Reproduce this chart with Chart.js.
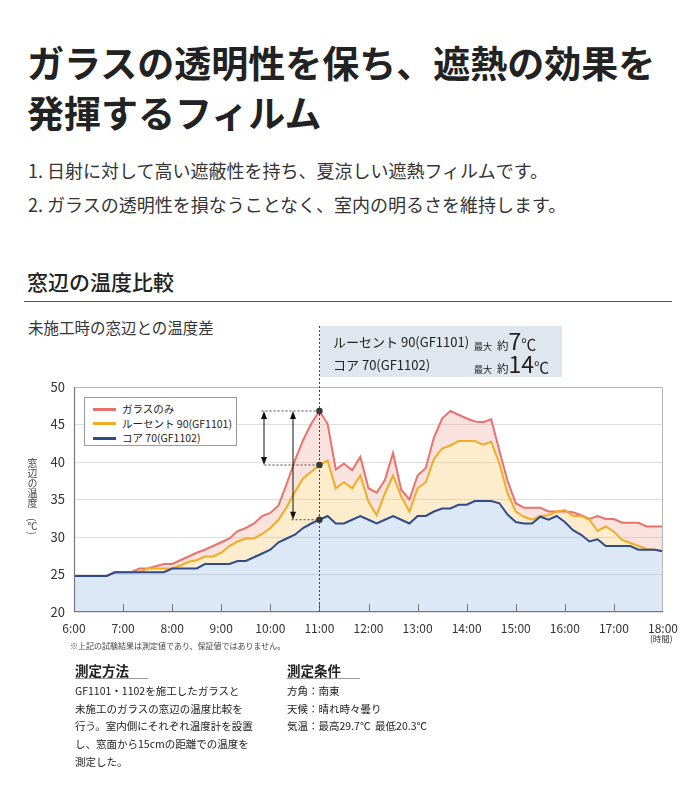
<!DOCTYPE html>
<html lang="ja">
<head>
<meta charset="utf-8">
<script src="https://cdn.jsdelivr.net/npm/chart.js@4.4.1/dist/chart.umd.min.js"></script>
<style>
html,body{margin:0;padding:0;background:#fff;}
body{width:700px;height:800px;position:relative;overflow:hidden;font-family:"Noto Sans CJK JP","Noto Sans",sans-serif;color:#222;}
.abs{position:absolute;white-space:nowrap;margin:0;}
#title{left:27px;top:37px;font-size:37px;line-height:50px;font-weight:700;color:#222;}
#list{left:28px;top:153px;font-size:18px;line-height:34px;color:#333;}
#sec{left:27px;top:266px;font-size:21px;line-height:30px;font-weight:500;color:#222;}
#rule{left:24px;top:301px;width:648px;height:0;border-top:1px solid #555;}
#sub{left:28px;top:316px;font-size:15.5px;line-height:22px;color:#333;}
#chartWrap{position:absolute;left:0;top:320px;width:700px;height:340px;}
#box{left:320px;top:326px;width:242px;height:51px;background:#dfe6ee;}
.row{position:absolute;left:13px;font-size:13px;color:#222;line-height:20px;}
.mx{position:absolute;left:154px;color:#222;line-height:20px;}
.mx .s{font-size:9px;}
.mx .m{font-size:11.5px;margin-left:5px;}
.mx .b{font-size:23px;font-weight:400;}
.mx .c{font-size:15px;}
#legend{left:84px;top:397px;width:151px;height:47px;background:#fff;border:1px solid #999;}
.lg{position:absolute;left:8px;height:14px;font-size:10.5px;line-height:14px;color:#222;}
.lg i{display:inline-block;width:23px;height:3px;vertical-align:middle;margin-right:6px;position:relative;top:-1px;}
#ytitle{left:25px;top:458px;writing-mode:vertical-rl;font-size:10px;color:#444;line-height:14px;}
#hour{left:650px;top:632px;font-size:8.5px;color:#333;}
#note{left:70px;top:640px;font-size:8px;color:#444;}
.h3{font-size:13.5px;font-weight:700;color:#222;line-height:20px;}
.ul{height:0;border-top:1px solid #999;}
.body{font-size:10.5px;line-height:17.7px;color:#222;}
</style>
</head>
<body>
<div id="title" class="abs">ガラスの透明性を保ち、遮熱の効果を<br>発揮するフィルム</div>
<div id="list" class="abs">1. 日射に対して高い遮蔽性を持ち、夏涼しい遮熱フィルムです。<br>2. ガラスの透明性を損なうことなく、室内の明るさを維持します。</div>
<div id="sec" class="abs">窓辺の温度比較</div>
<div id="rule" class="abs"></div>
<div id="sub" class="abs">未施工時の窓辺との温度差</div>

<div id="chartWrap"><canvas id="c" width="700" height="340" style="width:700px;height:340px"></canvas></div>

<div id="box" class="abs">
  <div class="row" style="top:6px">ルーセント 90(GF1101)</div>
  <div class="mx" style="top:4px"><span class="s">最大</span><span class="m">約</span><span class="b">7</span><span class="c">℃</span></div>
  <div class="row" style="top:29px">コア 70(GF1102)</div>
  <div class="mx" style="top:27px"><span class="s">最大</span><span class="m">約</span><span class="b">14</span><span class="c">℃</span></div>
</div>

<div id="legend" class="abs">
  <div class="lg" style="top:4px"><i style="background:#e8736c"></i>ガラスのみ</div>
  <div class="lg" style="top:18.5px"><i style="background:#f0ac22"></i>ルーセント 90(GF1101)</div>
  <div class="lg" style="top:33px"><i style="background:#2f4b8c"></i>コア 70(GF1102)</div>
</div>

<div id="ytitle" class="abs">窓辺の温度　(℃)</div>
<div id="hour" class="abs">(時間)</div>
<div id="note" class="abs">※上記の試験結果は測定値であり、保証値ではありません。</div>

<div class="abs h3" style="left:75px;top:660px">測定方法</div>
<div class="abs ul" style="left:75px;top:678px;width:73px"></div>
<div class="abs body" style="left:75px;top:682px">GF1101・1102を施工したガラスと<br>未施工のガラスの窓辺の温度比較を<br>行う。室内側にそれぞれ温度計を設置<br>し、窓面から15cmの距離での温度を<br>測定した。</div>

<div class="abs h3" style="left:287px;top:660px">測定条件</div>
<div class="abs ul" style="left:287px;top:678px;width:73px"></div>
<div class="abs body" style="left:287px;top:682px">方角：南東<br>天候：晴れ時々曇り<br>気温：最高29.7℃&nbsp;&nbsp;最低20.3℃</div>

<script>
const labels = ["6:00","6:10","6:20","6:30","6:40","6:50",
 "7:00","7:10","7:20","7:30","7:40","7:50",
 "8:00","8:10","8:20","8:30","8:40","8:50",
 "9:00","9:10","9:20","9:30","9:40","9:50",
 "10:00","10:10","10:20","10:30","10:40","10:50",
 "11:00","11:10","11:20","11:30","11:40","11:50",
 "12:00","12:10","12:20","12:30","12:40","12:50",
 "13:00","13:10","13:20","13:30","13:40","13:50",
 "14:00","14:10","14:20","14:30","14:40","14:50",
 "15:00","15:10","15:20","15:30","15:40","15:50",
 "16:00","16:10","16:20","16:30","16:40","16:50",
 "17:00","17:10","17:20","17:30","17:40","17:50",
 "18:00"];

const yTicks = [20,25,30,35,40,45,50];

const glassOnly = [24.8,24.8,24.8,24.8,24.8,25.3,
 25.3,25.3,25.8,25.8,26.1,26.4,
 26.4,26.9,27.4,27.9,28.3,28.8,
 29.3,29.8,30.8,31.2,31.8,32.8,
 33.2,34.2,37.1,40.2,42.9,45.1,
 46.8,45.1,39.0,39.8,38.9,40.7,
 36.5,35.9,37.6,41.2,36.3,35.0,
 38.2,39.2,43.3,45.8,46.8,46.3,
 45.8,45.4,45.3,45.7,41.5,37.5,
 34.5,33.9,33.9,33.9,33.4,33.4,
 33.4,33.3,32.9,32.4,32.8,32.4,
 32.4,31.9,31.9,31.9,31.4,31.4,
 31.4];

const lucent90 = [24.8,24.8,24.8,24.8,24.8,25.3,
 25.3,25.3,25.3,25.8,25.8,25.8,
 25.8,26.2,26.7,26.9,27.4,27.4,
 27.9,28.8,29.4,29.8,29.8,30.4,
 31.2,32.3,34.0,36.0,37.8,38.7,
 39.6,40.2,36.5,37.3,36.5,38.2,
 34.7,32.9,35.8,38.2,35.4,33.4,
 36.5,37.3,40.4,41.8,42.2,42.8,
 42.8,42.8,42.3,42.7,39.8,35.8,
 33.4,32.7,32.3,32.8,32.9,33.4,
 33.6,32.8,32.8,32.3,30.8,31.4,
 30.7,29.6,29.2,28.8,28.4,28.3,
 28.1];

const core70 = [24.8,24.8,24.8,24.8,24.8,25.3,
 25.3,25.3,25.3,25.3,25.3,25.3,
 25.8,25.8,25.8,25.8,26.4,26.4,
 26.4,26.4,26.8,26.8,27.3,27.8,
 28.3,29.3,29.8,30.3,31.2,31.8,
 32.3,32.8,31.8,31.8,32.3,32.8,
 32.3,31.8,32.3,32.8,32.3,31.8,
 32.8,32.8,33.4,33.8,33.8,34.3,
 34.3,34.8,34.8,34.8,34.5,33.0,
 32.0,31.8,31.8,32.7,32.3,32.8,
 32.0,30.9,30.3,29.4,29.7,28.8,
 28.8,28.8,28.8,28.3,28.3,28.3,
 28.1];

const seriesNames = ["ガラスのみ","ルーセント 90(GF1101)","コア 70(GF1102)"];
const markTime = "11:00";
const MARK = labels.indexOf(markTime);
const FONT = '"Noto Sans CJK JP","Noto Sans",sans-serif';

const overlay = {
  id:'overlay',
  afterDatasetsDraw(chart){
    const {ctx, chartArea:a, scales:{x,y}} = chart;
    ctx.save();
    ctx.strokeStyle='#777'; ctx.lineWidth=1;
    labels.forEach((l,i)=>{
      if(l.endsWith(':00') && i>0 && i<labels.length-1){
        const px=Math.round(x.getPixelForValue(i))+0.5;
        ctx.beginPath(); ctx.moveTo(px,a.bottom); ctx.lineTo(px,a.bottom-8); ctx.stroke();
      }
    });
    ctx.strokeStyle='#b5b5b5'; ctx.lineWidth=1;
    ctx.beginPath();
    ctx.moveTo(a.left,a.top+0.5); ctx.lineTo(a.right-0.5,a.top+0.5); ctx.lineTo(a.right-0.5,a.bottom);
    ctx.stroke();
    ctx.strokeStyle='#777'; ctx.lineWidth=1.2;
    ctx.beginPath();
    ctx.moveTo(a.left+0.5,a.top); ctx.lineTo(a.left+0.5,a.bottom-0.5); ctx.lineTo(a.right,a.bottom-0.5);
    ctx.stroke();
    const mx = Math.round(x.getPixelForValue(MARK))+0.5;
    const yr = y.getPixelForValue(glassOnly[MARK]);
    const yo = y.getPixelForValue(lucent90[MARK]);
    const yb = y.getPixelForValue(core70[MARK]);
    ctx.strokeStyle='#444'; ctx.lineWidth=1; ctx.setLineDash([2,2]);
    ctx.beginPath(); ctx.moveTo(mx,6); ctx.lineTo(mx,a.bottom); ctx.stroke();
    ctx.beginPath();
    ctx.moveTo(mx-58,yr); ctx.lineTo(mx,yr);
    ctx.moveTo(mx-55,yo); ctx.lineTo(mx,yo);
    ctx.moveTo(mx-28,yb); ctx.lineTo(mx,yb);
    ctx.stroke();
    ctx.setLineDash([]);
    function dArrow(ax,y1,y2){
      ctx.strokeStyle='#111'; ctx.fillStyle='#111'; ctx.lineWidth=1;
      ctx.beginPath(); ctx.moveTo(ax,y1+6); ctx.lineTo(ax,y2-6); ctx.stroke();
      ctx.beginPath(); ctx.moveTo(ax,y1); ctx.lineTo(ax-3,y1+8); ctx.lineTo(ax+3,y1+8); ctx.closePath(); ctx.fill();
      ctx.beginPath(); ctx.moveTo(ax,y2); ctx.lineTo(ax-3,y2-8); ctx.lineTo(ax+3,y2-8); ctx.closePath(); ctx.fill();
    }
    dArrow(mx-55.5,yr,yo);
    dArrow(mx-26.5,yr,yb);
    ctx.restore();
  }
};

const dotR = ctx => ctx.dataIndex===MARK ? 3.2 : 0;

new Chart(document.getElementById('c'),{
  type:'line',
  data:{
    labels:labels,
    datasets:[
      {label:seriesNames[0],data:glassOnly,borderColor:'#e8736c',backgroundColor:'rgba(238,160,146,0.30)',fill:{target:1},order:2},
      {label:seriesNames[1],data:lucent90,borderColor:'#f0ac22',backgroundColor:'rgba(248,200,95,0.32)',fill:{target:2},order:1},
      {label:seriesNames[2],data:core70,borderColor:'#2f4b8c',backgroundColor:'rgba(140,180,225,0.30)',fill:'start',order:0}
    ].map(d=>Object.assign(d,{borderWidth:2,tension:0,pointRadius:dotR,pointHoverRadius:0,pointBackgroundColor:'#333',pointBorderWidth:0}))
  },
  options:{
    responsive:false,
    animation:false,
    events:[],
    layout:{padding:{left:0,right:37,top:67,bottom:18}},
    plugins:{legend:{display:false},tooltip:{enabled:false},filler:{drawTime:'beforeDatasetsDraw'}},
    scales:{
      x:{
        type:'category',offset:false,
        grid:{display:false,drawTicks:false},
        border:{display:false},
        ticks:{autoSkip:false,maxRotation:0,padding:9,color:'#333',font:{size:12,family:FONT},
          callback:(v,i)=> labels[i].endsWith(':00') ? labels[i] : ''},
        afterFit:s=>{s.height=30;}
      },
      y:{
        min:yTicks[0],max:yTicks[yTicks.length-1],
        afterBuildTicks:s=>{s.ticks=yTicks.map(v=>({value:v}));},
        grid:{color:'#dedede',drawTicks:false},
        border:{display:false},
        ticks:{padding:9,color:'#333',font:{size:13,family:FONT}},
        afterFit:s=>{s.width=74;}
      }
    }
  },
  plugins:[overlay]
});
</script>
</body>
</html>
